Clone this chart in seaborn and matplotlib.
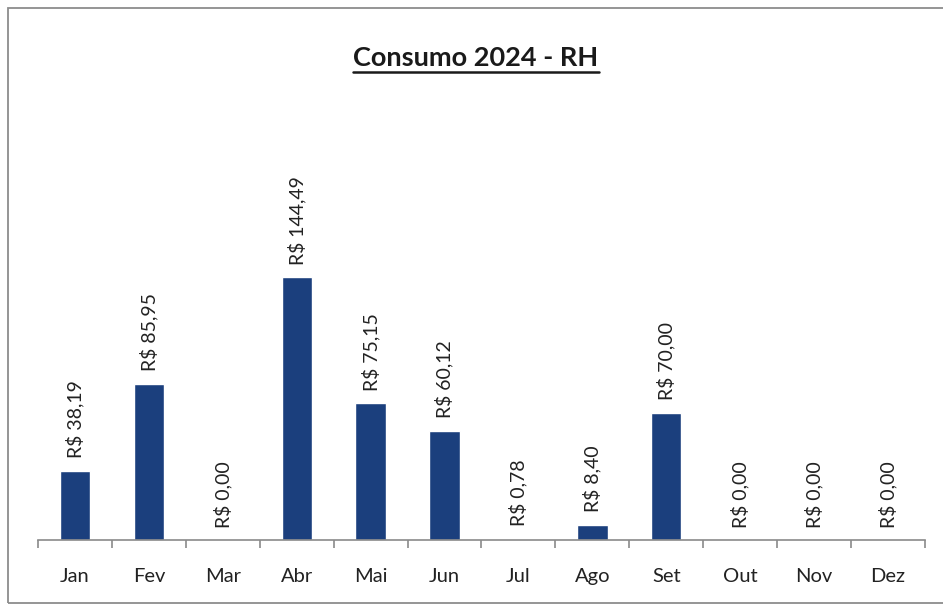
import seaborn as sns
import pandas as pd
import matplotlib.pyplot as plt
from matplotlib.patches import Rectangle
from matplotlib.lines import Line2D

meses = ["Jan", "Fev", "Mar", "Abr", "Mai", "Jun", "Jul", "Ago", "Set", "Out", "Nov", "Dez"]
valores = [38.19, 85.95, 0.00, 144.49, 75.15, 60.12, 0.78, 8.40, 70.00, 0.00, 0.00, 0.00]

df = pd.DataFrame({"Mes": meses, "Valor": valores})

sns.set_style("white")
plt.rcParams["font.family"] = ["Lato", "DejaVu Sans"]

W, H = 943, 613
fig = plt.figure(figsize=(W / 100, H / 100), dpi=100)
ax = fig.add_axes([38 / W, (H - 540) / H, (925 - 38) / W, (540 - 249) / H])

sns.barplot(data=df, x="Mes", y="Valor", color="#1b3f7d", width=0.41,
            saturation=1, ax=ax)

ax.set_ylim(0, 160)
ax.set_xlim(-0.5, 11.5)
ax.set_xlabel("")
ax.set_ylabel("")
ax.set_yticks([])
for s in ["top", "right", "left"]:
    ax.spines[s].set_visible(False)
ax.spines["bottom"].set_color("#8a8a8a")
ax.spines["bottom"].set_linewidth(1.2)

ax.tick_params(axis="x", which="major", length=0, labelsize=14.5, pad=20,
               labelcolor="#222222")
ax.set_xticks([i - 0.5 for i in range(13)], minor=True)
ax.tick_params(axis="x", which="minor", length=6, color="#8a8a8a", width=1.2,
               direction="out")
ax.tick_params(axis="x", which="minor", bottom=True)

for i, v in enumerate(valores):
    txt = "R$ " + f"{v:.2f}".replace(".", ",")
    ax.annotate(txt, (i, v), xytext=(0, 9), textcoords="offset points",
                rotation=90, ha="center", va="bottom", fontsize=14,
                color="#222222", annotation_clip=False)

title = fig.text(476 / W, 1 - 58 / H, "Consumo 2024 - RH", ha="center",
                 va="center", fontsize=19.5, fontweight="bold", color="#1a1a1a")

fig.canvas.draw()
bb = title.get_window_extent(fig.canvas.get_renderer())
uy = (bb.y0 - 2) / H
fig.add_artist(Line2D([bb.x0 / W, bb.x1 / W], [uy, uy], color="#1a1a1a",
                      linewidth=1.8, transform=fig.transFigure))

fig.add_artist(Rectangle((8 / W, (H - 603) / H), 1.0, (603 - 8) / H,
                         fill=False, edgecolor="#8c8c8c", linewidth=1.3,
                         transform=fig.transFigure))

fig.savefig("out.png", dpi=100)
